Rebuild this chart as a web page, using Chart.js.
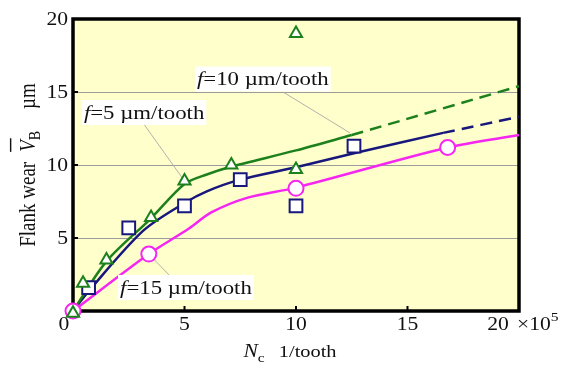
<!DOCTYPE html>
<html>
<head>
<meta charset="utf-8">
<script src="https://cdn.jsdelivr.net/npm/chart.js@4.4.1/dist/chart.umd.min.js"></script>
<style>
  html, body { margin: 0; padding: 0; background: #fff; }
  #wearChart { display: block; }
</style>
</head>
<body>
<canvas id="wearChart" width="571" height="365"></canvas>
<script>
// measured flank wear, N_c in units of 1e5 per tooth, V_B in um
const f5X = [0, 0.45, 1.5, 3.5, 5, 7.1, 10, 10];
const f5Y = [-0.15, 1.9, 3.5, 6.4, 8.9, 10, 9.7, 19];
const f10X = [0.7, 2.5, 5, 7.5, 10, 12.6];
const f10Y = [1.6, 5.7, 7.2, 9.0, 7.2, 11.3];
const f15X = [0, 3.4, 10, 16.8];
const f15Y = [0, 3.9, 8.4, 11.2];

// fitted wear curves, solid part then dashed extrapolation
const f5FitX = [0, 1.5, 3.5, 5, 6, 7, 10, 12.5];
const f5FitY = [0, 3.4, 6.35, 8.7, 9.35, 9.85, 11.0, 12.05];
const f5ExtX = [12.5, 20];
const f5ExtY = [12.05, 15.4];
const f10FitX = [0, 0.75, 3.15, 5, 6, 7.5, 10, 12.6, 16.6];
const f10FitY = [0, 1.45, 5.5, 7.4, 8.2, 9.0, 9.85, 10.8, 12.2];
const f10ExtX = [16.6, 20];
const f10ExtY = [12.2, 13.3];
const f15FitX = [0, 3.4, 5.2, 6.2, 7.8, 10, 16.8, 20];
const f15FitY = [0, 3.9, 5.65, 6.75, 7.75, 8.45, 11.2, 12.05];

const xTicks = [0, 5, 10, 15, 20];
const yTicks = [5, 10, 15, 20];

const GREEN = '#1c801c';
const NAVY = '#17177c';
const PINK = '#f526f0';
const SERIF = '"Liberation Serif", "Times New Roman", Times, serif';
const SX = 1.2; // glyphs in this figure are set wide

const pts = (xs, ys) => xs.map((x, i) => ({ x: x, y: ys[i] }));

function font(size, italic) {
  return (italic ? 'italic ' : '') + size + 'px ' + SERIF;
}

// width of a run of text pieces along the baseline
function runWidth(ctx, parts) {
  let w = 0;
  parts.forEach(p => {
    ctx.font = font(p.size || 18, p.italic);
    w += (p.gap || 0) + ctx.measureText(p.t || '').width * SX;
  });
  return w;
}

// draws pieces left to right in the current transform, stretched along or across the text
function drawRun(ctx, parts, x, y, stretchAlong) {
  parts.forEach(p => {
    x += p.gap || 0;
    const size = p.size || 18;
    ctx.font = font(size, p.italic);
    const w = ctx.measureText(p.t || '').width;
    ctx.save();
    ctx.translate(x, y + (p.dy || 0));
    if (stretchAlong) ctx.scale(SX, 1); else ctx.scale(1, SX);
    ctx.textAlign = 'left';
    ctx.textBaseline = 'alphabetic';
    ctx.fillText(p.t || '', 0, 0);
    if (p.bar) {
      ctx.fillRect(0, -size * 1.1, w + 2, 1.2);
    }
    ctx.restore();
    x += stretchAlong ? w * SX : w;
  });
}

const notes = [
  { label: '5',  box: [0.4, 14.45],  from: [3.14, 12.88], tip: [5, 8.9] },
  { label: '10', box: [5.47, 16.75], from: [9.42, 15.0],  tip: [12.42, 12.2] },
  { label: '15', box: [2.02, 2.47],  from: [4.35, 2.4],   tip: [3.4, 3.9] }
];

const framePlugin = {
  id: 'frame',
  beforeDraw(chart) {
    const { ctx, chartArea: a } = chart;
    ctx.save();
    ctx.fillStyle = '#ffffcc';
    ctx.fillRect(a.left, a.top, a.right - a.left, a.bottom - a.top);
    ctx.restore();
  },
  beforeDatasetsDraw(chart) {
    const { ctx, chartArea: a, scales } = chart;
    ctx.save();
    // leader lines sit under the curves
    ctx.strokeStyle = '#a8a8a8';
    ctx.lineWidth = 0.9;
    notes.forEach(n => {
      ctx.beginPath();
      ctx.moveTo(scales.x.getPixelForValue(n.from[0]), scales.y.getPixelForValue(n.from[1]));
      ctx.lineTo(scales.x.getPixelForValue(n.tip[0]), scales.y.getPixelForValue(n.tip[1]));
      ctx.stroke();
    });
    ctx.strokeStyle = '#000';
    ctx.lineWidth = 3.5;
    ctx.strokeRect(a.left, a.top, a.right - a.left, a.bottom - a.top);
    ctx.lineWidth = 2;
    xTicks.slice(1, -1).forEach(v => {
      const px = scales.x.getPixelForValue(v);
      ctx.beginPath(); ctx.moveTo(px, a.bottom); ctx.lineTo(px, a.bottom - 5); ctx.stroke();
    });
    yTicks.slice(0, -1).forEach(v => {
      const py = scales.y.getPixelForValue(v);
      ctx.beginPath(); ctx.moveTo(a.left, py); ctx.lineTo(a.left + 5, py); ctx.stroke();
    });
    ctx.restore();
  },
  afterDatasetsDraw(chart) {
    const { ctx, scales } = chart;
    ctx.save();
    notes.forEach(n => {
      const parts = [{ t: 'f', italic: true, size: 19 }, { t: '=' + n.label + ' \u00b5m/tooth', size: 19 }];
      const w = runWidth(ctx, parts) + 4;
      const bx = scales.x.getPixelForValue(n.box[0]);
      const by = scales.y.getPixelForValue(n.box[1]);
      ctx.fillStyle = '#fff';
      ctx.fillRect(bx, by, w, 25);
      ctx.fillStyle = '#111';
      drawRun(ctx, parts, bx + 2, by + 19, true);
    });
    ctx.restore();
  },
  afterDraw(chart) {
    const { ctx, chartArea: a, scales } = chart;
    ctx.save();
    ctx.fillStyle = '#111';
    // y tick labels
    yTicks.forEach(v => {
      const s = String(v);
      const w = runWidth(ctx, [{ t: s }]);
      drawRun(ctx, [{ t: s }], a.left - 5 - w, scales.y.getPixelForValue(v) + 6, true);
    });
    // x tick labels, the end ones pulled left
    xTicks.forEach(v => {
      const s = String(v);
      const w = runWidth(ctx, [{ t: s }]);
      let cx = scales.x.getPixelForValue(v);
      if (v === 0) cx -= 9;
      if (v === 20) cx -= 21;
      drawRun(ctx, [{ t: s }], cx - w / 2, 330, true);
    });
    drawRun(ctx, [{ t: '\u00d710' }, { t: '5', size: 13, dy: -9 }],
      scales.x.getPixelForValue(20) - 2, 330, true);

    // x axis title
    const xt = [{ t: 'N', italic: true, size: 18 }, { t: 'c', size: 13, dy: 5 },
                { t: '1/tooth', size: 17, gap: 14 }];
    drawRun(ctx, xt, (a.left + a.right) / 2 - runWidth(ctx, xt) / 2 - 6, 357, true);

    // y axis title, rotated
    const yt = [{ t: 'Flank wear', size: 19 }, { t: 'V', italic: true, bar: true, gap: 10, size: 19 },
                { t: 'B', size: 14, dy: 5 }, { t: '\u00b5m', gap: 22, size: 19 }];
    let len = 0;
    yt.forEach(p => { ctx.font = font(p.size || 18, p.italic); len += (p.gap || 0) + ctx.measureText(p.t).width; });
    ctx.translate(35, (a.top + a.bottom) / 2);
    ctx.rotate(-Math.PI / 2);
    drawRun(ctx, yt, -len / 2, 0, false);
    ctx.restore();
  }
};

function curve(xs, ys, color, dashed) {
  return {
    data: pts(xs, ys),
    showLine: true,
    borderColor: color,
    borderWidth: 2.5,
    borderDash: dashed ? [12, 7] : [],
    pointRadius: 0,
    tension: 0.3,
    fill: false
  };
}

function marks(xs, ys, color, style, radius) {
  return {
    data: pts(xs, ys),
    showLine: false,
    pointStyle: style,
    pointRadius: radius,
    pointBorderWidth: 2,
    pointBorderColor: color,
    pointBackgroundColor: '#fff',
    clip: false
  };
}

new Chart(document.getElementById('wearChart').getContext('2d'), {
  type: 'scatter',
  data: {
    datasets: [
      marks(f5X, f5Y, GREEN, 'triangle', 7),
      marks(f10X, f10Y, NAVY, 'rect', 9),
      marks(f15X, f15Y, PINK, 'circle', 7.5),
      curve(f5FitX, f5FitY, GREEN, false),
      curve(f5ExtX, f5ExtY, GREEN, true),
      curve(f10FitX, f10FitY, NAVY, false),
      curve(f10ExtX, f10ExtY, NAVY, true),
      curve(f15FitX, f15FitY, PINK, false)
    ]
  },
  options: {
    responsive: false,
    animation: false,
    events: [],
    layout: { padding: { top: 19, right: 52, left: 0, bottom: 0 } },
    plugins: { legend: { display: false }, tooltip: { enabled: false } },
    scales: {
      x: {
        type: 'linear', min: 0, max: 20,
        grid: { display: false },
        border: { display: false },
        ticks: { display: false },
        afterFit: s => { s.height = 54; }
      },
      y: {
        type: 'linear', min: 0, max: 20,
        grid: { color: '#9c9c9c', lineWidth: 1, drawTicks: false },
        border: { display: false },
        ticks: { display: false, stepSize: 5 },
        afterFit: s => { s.width = 73; }
      }
    }
  },
  plugins: [framePlugin]
});
</script>
</body>
</html>
